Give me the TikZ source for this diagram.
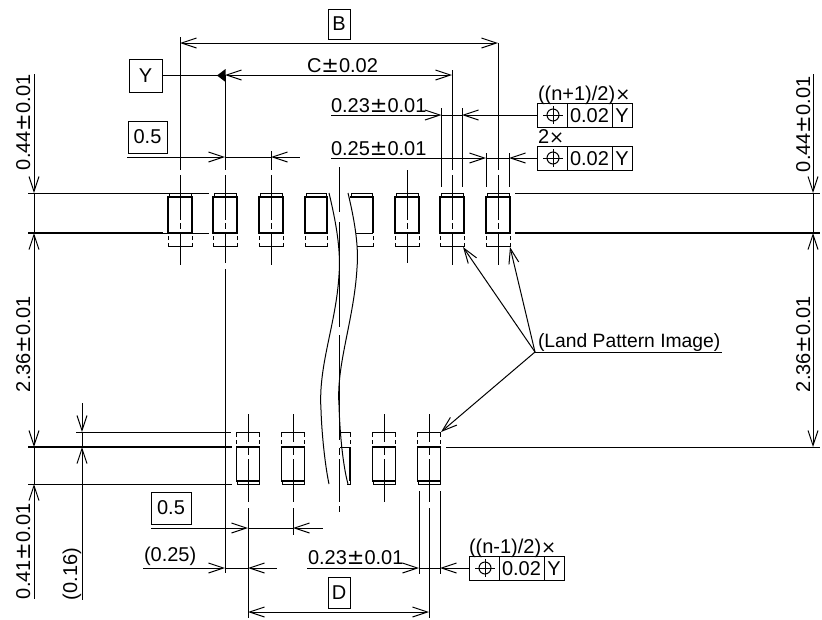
\documentclass[tikz,border=0pt]{standalone}
\usepackage{fontspec}
\setmainfont{Liberation Sans}
\newfontfamily\symfont{DejaVu Sans}
\usetikzlibrary{arrows.meta}
\newcommand{\pmm}{{\symfont\fontsize{21}{20}\selectfont ±}}
\newcommand{\tms}{{\symfont\fontsize{18}{20}\selectfont ×}}
\tikzset{
  x=1pt,y=-1pt,
  every path/.style={line width=1pt},
  txt/.style={font=\fontsize{20}{22}\selectfont,inner sep=0pt,outer sep=0pt},
  frame/.style={draw,inner sep=0pt,outer sep=0pt,font=\fontsize{20}{22}\selectfont},
  dimarrow/.style={-{Straight Barb[length=15pt,width=10pt]}},
  revarrow/.style={{Straight Barb[length=15pt,width=10pt]}-},
  bothArrow/.style={{Straight Barb[length=15pt,width=10pt]}-{Straight Barb[length=15pt,width=10pt]}},
  thickline/.style={line width=1.7pt},
  padline/.style={line width=1.3pt},
}
\newcommand{\topaxis}[3]{%
  \draw (#1,#2) -- (#1,170);
  \draw (#1,175) -- (#1,220);
  \draw (#1,223) -- (#1,229);
  \draw (#1,233) -- (#1,#3);
}
\newcommand{\botaxis}[2]{%
  \draw (#1,414) -- (#1,442);
  \draw (#1,448) -- (#1,455);
  \draw (#1,459) -- (#1,#2);
}
\newcommand{\toppad}[1]{%
  \draw[padline] (#1-12,233) -- (#1-12,197) -- (#1+12,197) -- (#1+12,233) -- cycle;
  \draw (#1-11,197) -- (#1-11,193) -- (#1+11,193) -- (#1+11,197);
  \draw (#1-12,236) -- (#1-12,240) (#1-12,243) -- (#1-12,246.5) -- (#1+12,246.5) -- (#1+12,243) (#1+12,240) -- (#1+12,236);
}
\newcommand{\botpad}[1]{%
  \draw[padline] (#1-11.5,447) -- (#1+11.5,447) -- (#1+11.5,481) -- (#1-11.5,481) -- cycle;
  \draw (#1-11,481) -- (#1-11,484) -- (#1+11,484) -- (#1+11,481);
  \draw (#1-11.5,444) -- (#1-11.5,440) (#1-11.5,437) -- (#1-11.5,432) -- (#1+11.5,432) -- (#1+11.5,437) (#1+11.5,440) -- (#1+11.5,444);
}
\newcommand{\fcf}[3]{% name, x, y (top)
  \draw (#2,#3) rectangle (#2+95,#3+24);
  \draw (#2+30,#3) -- (#2+30,#3+24) (#2+75,#3) -- (#2+75,#3+24);
  \draw (#2+16,#3+12) circle (6);
  \draw (#2+6,#3+12) -- (#2+26,#3+12) (#2+16,#3+3) -- (#2+16,#3+21);
  \node[txt,anchor=base] (#1v) at (#2+52.5,#3+19.5) {0.02};
  \node[txt,anchor=base] (#1d) at (#2+85,#3+19.5) {Y};
}
\begin{document}
\begin{tikzpicture}
\useasboundingbox (0,0) rectangle (822,619);

% horizontal reference lines
\draw (28,193) -- (209,193);
\draw[thickline] (28,233) -- (163,233);
\draw (163,233) -- (209,233);
\draw (515,193) -- (820,193);
\draw[thickline] (515,233) -- (820,233);
\draw[thickline] (28,447) -- (232,447);
\draw (446,447) -- (820,447);
\draw (28,484) -- (232,484);
\draw (76,432) -- (231,432);

% pads
\foreach \c in {180,225,271,407,452,498} {\toppad{\c}}
\foreach \c in {248,293,384,429} {\botpad{\c}}

% part pads beside the break
\draw[padline] (305,233) -- (305,197) -- (327,197) -- (327,233) -- cycle;
\draw (306,197) -- (306,193) -- (326,193) -- (326,197);
\draw (305,236) -- (305,240) (305,243) -- (305,246.5) -- (327,246.5) -- (327,243) (327,240) -- (327,236);
\draw[padline] (373,233) -- (373,197) -- (350,197);
\draw (356,233) -- (373,233);
\draw (351,197) -- (351,193) -- (372,193) -- (372,197);
\draw (357,246.5) -- (373,246.5) -- (373,243) (373,240) -- (373,236);
% half pad at the bottom
\draw[padline] (350,447) -- (350,481);
\draw (340,447) -- (350,447);
\draw (340,432) -- (350,432) -- (350,437) (350,440) -- (350,444);
\draw (347,484) -- (350,484) -- (350,481);

% break curves
\draw (329,193) .. controls (336,222) and (341,250) .. (339,275)
  .. controls (336,325) and (318,365) .. (321,410)
  .. controls (322,440) and (326,470) .. (329,484);
\draw (348,193) .. controls (354,218) and (359,245) .. (357,268)
  .. controls (354,320) and (336,365) .. (339,405)
  .. controls (340,440) and (344,470) .. (348,484);

% centre lines
\topaxis{180}{37}{265}
\topaxis{271}{151}{265}
\topaxis{407}{175}{263}
\topaxis{452}{70}{265}
\topaxis{498}{43}{265}
\draw (225,75) -- (225,170);
\draw (225,175) -- (225,220);
\draw (225,223) -- (225,229);
\draw (225,233) -- (225,263);
\draw (225,269) -- (225,573);
\draw (339,167) -- (339,212);
\draw (339,222) -- (339,327);
\draw (339,335) -- (339,440);
\draw (339,448) -- (339,455);
\draw (339,459) -- (339,502);
\draw (339,506) -- (339,512);
\botaxis{248}{502}
\botaxis{293}{502}
\botaxis{384}{502}
\botaxis{429}{502}
\draw (248,508) -- (248,618);
\draw (293,508) -- (293,535);
\draw (429,508) -- (429,618);

% left and right vertical dimensions
\draw[dimarrow] (34,74) -- (34,193);
\draw (34,193) -- (34,233);
\draw[bothArrow] (34,233) -- (34,447);
\draw (34,447) -- (34,484);
\draw[revarrow] (34,484) -- (34,599);
\draw[dimarrow] (813,74) -- (813,193);
\draw (813,193) -- (813,233);
\draw[bothArrow] (813,233) -- (813,447);
\draw[dimarrow] (82,403) -- (82,432);
\draw (82,432) -- (82,447);
\draw[revarrow] (82,447) -- (82,600);

\node[txt,rotate=90,anchor=base west] (hl1) at (30,170) {0.44\pmm0.01};
\node[txt,rotate=90,anchor=base west] (hl2) at (30,392) {2.36\pmm0.01};
\node[txt,rotate=90,anchor=base west] (hl3) at (30,599) {0.41\pmm0.01};
\node[txt,rotate=90,anchor=base west] (hl4) at (77,600) {(0.16)};
\node[txt,rotate=90,anchor=base west] (hr1) at (810,172) {0.44\pmm0.01};
\node[txt,rotate=90,anchor=base west] (hr2) at (810,392) {2.36\pmm0.01};

% B
\node[frame,minimum width=22pt,minimum height=30pt] (bbox) at (339,24) {B};
\draw[bothArrow] (180,43) -- (498,43);

% Y datum and C
\node[frame,minimum width=33pt,minimum height=33pt] (ybox) at (145.5,75.5) {Y};
\draw (ybox.east) -- (218,75.5);
\fill (217,75.5) -- (225.5,69) -- (225.5,82) -- cycle;
\draw[bothArrow] (225,75) -- (452,75);
\node[txt,anchor=base west] (ctext) at (307,72) {C\pmm0.02};

% 0.5 top
\node[frame,minimum width=39pt,minimum height=32pt] (pa) at (147.5,137) {0.5};
\draw[dimarrow] (127,157) -- (225,157);
\draw[revarrow] (271,157) -- (300,157);
\draw (225,157) -- (271,157);

% 0.23 top with FCF
\draw (441.5,108) -- (441.5,187);
\draw (462,108) -- (462,187);
\draw (486,153) -- (486,187);
\draw (509,153) -- (509,187);
\node[txt,anchor=base west] (w1) at (331,112) {0.23\pmm0.01};
\draw[dimarrow] (331,115) -- (441.5,115);
\draw (441.5,115) -- (462,115);
\draw[revarrow] (462,115) -- (537,115);
\fcf{fa}{537}{103}
\node[txt,anchor=base west] (fatxt) at (538,100) {((n+1)/2)\tms};

\node[txt,anchor=base west] (w2) at (331,155) {0.25\pmm0.01};
\draw[dimarrow] (331,158) -- (486,158);
\draw (486,158) -- (509,158);
\draw[revarrow] (509,158) -- (537,158);
\fcf{fb}{537}{146}
\node[txt,anchor=base west] (fbtxt) at (538,143) {2\tms};

% land pattern label
\node[txt,anchor=base west,font=\fontsize{19.3}{22}\selectfont] (land) at (538,347) {(Land Pattern Image)};
\coordinate (lroot) at (535,352);
\draw (lroot) -- (722,352);
\draw[dimarrow] (lroot) -- (463,247);
\draw[dimarrow] (lroot) -- (510,247);
\draw[dimarrow] (lroot) -- (441,432);

% bottom 0.5
\node[frame,minimum width=40pt,minimum height=32pt] (pb) at (171,508) {0.5};
\draw[dimarrow] (151,528) -- (248,528);
\draw (248,528) -- (293,528);
\draw[revarrow] (293,528) -- (323,528);

% (0.25)
\node[txt,anchor=base west] (p25) at (144,561) {(0.25)};
\draw[dimarrow] (143,568) -- (225,568);
\draw (225,568) -- (248,568);
\draw[revarrow] (248,568) -- (277,568);

% bottom 0.23
\draw (419,491) -- (419,574);
\draw (440,491) -- (440,574);
\node[txt,anchor=base west] (w3) at (308,564) {0.23\pmm0.01};
\draw[dimarrow] (307,568) -- (419,568);
\draw (419,568) -- (440,568);
\draw[revarrow] (440,568) -- (469,568);
\fcf{fc}{469}{556}
\node[txt,anchor=base west] (fctxt) at (469,553) {((n-1)/2)\tms};

% D
\node[frame,minimum width=22pt,minimum height=31pt] (dbox) at (339,592.5) {D};
\draw[bothArrow] (248,612) -- (429,612);
\end{tikzpicture}
\end{document}
